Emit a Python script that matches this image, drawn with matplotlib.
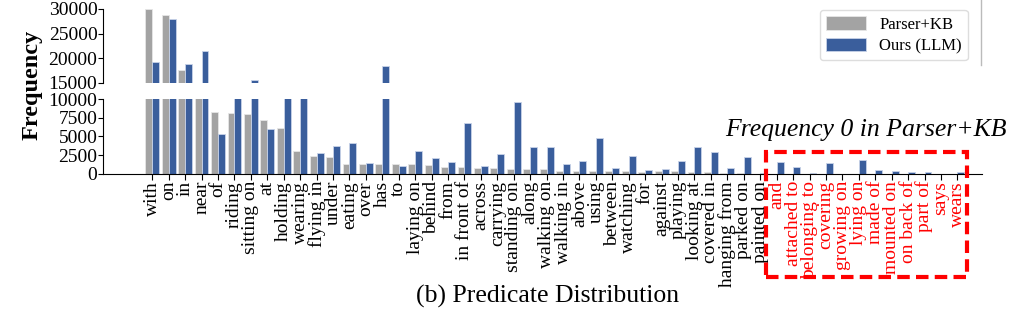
#importing required libraries
import matplotlib.pyplot as plt
import numpy as np
from matplotlib.patches import Rectangle
from matplotlib.lines import Line2D

plt.rcParams['font.family'] = ['Liberation Serif', 'DejaVu Serif']

#predicate names and frequencies
predicates = ['with', 'on', 'in', 'near', 'of', 'riding', 'sitting on', 'at', 'holding', 'wearing',
              'flying in', 'under', 'eating', 'over', 'has', 'to', 'laying on', 'behind', 'from',
              'in front of', 'across', 'carrying', 'standing on', 'along', 'walking on', 'walking in',
              'above', 'using', 'between', 'watching', 'for', 'against', 'playing', 'looking at',
              'covered in', 'hanging from', 'parked on', 'painted on', 'and', 'attached to',
              'belonging to', 'covering', 'growing on', 'lying on', 'made of', 'mounted on',
              'on back of', 'part of', 'says', 'wears']
parser_kb = [29900, 28850, 17600, 12500, 8220, 8130, 8040, 7200, 6090, 3070,
             2400, 2310, 1370, 1290, 1290, 1290, 1290, 1150, 930,
             930, 760, 760, 710, 620, 620, 440,
             440, 440, 440, 360, 310, 400, 400, 220,
             220, 130, 130, 40, 0, 0,
             0, 0, 0, 0, 0, 0,
             0, 0, 0, 0]
ours_llm = [19200, 27950, 18900, 21400, 5330, 12500, 15700, 5960, 12500, 12500,
            2840, 3780, 4090, 1470, 18400, 1020, 3020, 2180, 1550,
            6760, 1020, 2710, 9560, 3550, 3550, 1370,
            1690, 4800, 840, 2350, 530, 670, 1690, 3550,
            2930, 840, 2220, 180, 1550, 930,
            130, 1420, 15, 1820, 530, 440,
            220, 310, 15, 220]
zero_start = 38  # predicates from here never appear in Parser+KB

gray = '#a3a3a3'
blue = '#3a5e9c'
x = np.arange(len(predicates))
w = 0.42

fig = plt.figure(figsize=(10.24, 3.26), dpi=100)
ax_top = fig.add_axes([0.1006, 0.7454, 0.8584, 0.227])
ax_bot = fig.add_axes([0.1006, 0.4663, 0.8584, 0.230])

#drawing the same bars on both halves of the broken axis
for ax in (ax_top, ax_bot):
    ax.bar(x - w / 2, parser_kb, w, color=gray, edgecolor='#e6e6e6', linewidth=0.6, label='Parser+KB')
    ax.bar(x + w / 2, ours_llm, w, color=blue, edgecolor='#c8d3e8', linewidth=0.6, label='Ours (LLM)')
    ax.set_xlim(-3, 50.5)
    ax.spines['top'].set_visible(False)
    ax.spines['right'].set_visible(False)
    ax.tick_params(axis='y', labelsize=14, length=3.5, pad=0.5)

ax_top.set_ylim(15000, 30000)
ax_top.set_yticks([15000, 20000, 25000, 30000])
ax_top.spines['bottom'].set_visible(False)
ax_top.tick_params(axis='x', bottom=False, labelbottom=False)

ax_bot.set_ylim(0, 10000)
ax_bot.set_yticks([0, 2500, 5000, 7500, 10000])
ax_bot.set_xticks(x)
ax_bot.set_xticklabels(predicates, rotation=90, fontsize=14)
ax_bot.tick_params(axis='x', length=4, pad=1)
for i, lab in enumerate(ax_bot.get_xticklabels()):
    if i >= zero_start:
        lab.set_color('red')

#legend, labels and annotations
ax_top.legend(loc='upper right', bbox_to_anchor=(0.945, 0.969), bbox_transform=fig.transFigure,
              borderaxespad=0, fontsize=12, handlelength=2.4, handleheight=0.9, labelspacing=0.3,
              borderpad=0.35, edgecolor='#dddddd', framealpha=1)
fig.text(0.031, 0.739, 'Frequency', rotation=90, fontsize=17.5, fontweight='bold', ha='center', va='center')
fig.text(0.846, 0.600, 'Frequency 0 in Parser+KB', fontsize=18.5, style='italic', ha='center', va='center')
fig.text(0.535, 0.092, '(b) Predicate Distribution', fontsize=18.5, ha='center', va='center')

#red dashed box around the zero-frequency predicates
fig.add_artist(Rectangle((766 / 1024, 1 - 277 / 326), 201 / 1024, 125 / 326, transform=fig.transFigure,
                         fill=False, edgecolor='red', linestyle=(0, (3, 1.5)), linewidth=3))
fig.add_artist(Line2D([981 / 1024, 981 / 1024], [1, 1 - 65 / 326], transform=fig.transFigure,
                      color='#bbbbbb', linewidth=1))

#saving the generated plot
fig.savefig('out.png', dpi=100)
